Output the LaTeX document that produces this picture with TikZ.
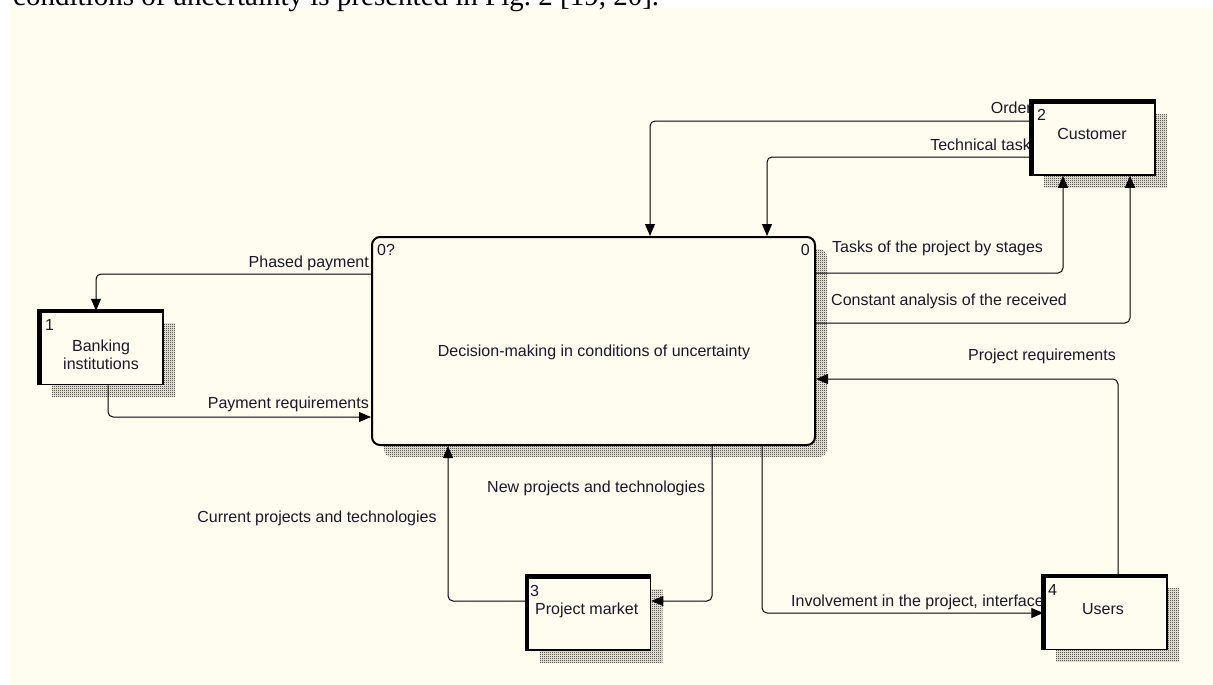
\documentclass[tikz,border=0pt]{standalone}
\usepackage{fontspec}
\setmainfont{Liberation Sans}
\newfontfamily\pageserif{Liberation Serif}
\usetikzlibrary{arrows.meta,patterns,shadows}
\pgfdeclarepatternformonly{finechecker}{\pgfqpoint{0pt}{0pt}}{\pgfqpoint{2pt}{2pt}}{\pgfqpoint{2pt}{2pt}}{%
  \pgfpathrectangle{\pgfqpoint{0pt}{0pt}}{\pgfqpoint{1pt}{1pt}}%
  \pgfpathrectangle{\pgfqpoint{1pt}{1pt}}{\pgfqpoint{1pt}{1pt}}%
  \pgfusepath{fill}}
\definecolor{cream}{RGB}{255,252,240}
\definecolor{ink}{RGB}{25,25,40}
\begin{document}
\begin{tikzpicture}[x=1pt,y=-1pt,
  font=\fontsize{16}{18.5}\selectfont,
  shadowed/.style={general shadow={shadow xshift=12pt,shadow yshift=-12pt,pattern=finechecker,pattern color=black}},
  proc/.style={draw=black,line width=2pt,rounded corners=8pt,fill=cream,minimum width=443pt,minimum height=208pt,inner sep=0pt,shadowed},
  entity/.style={draw=black,line width=1.5pt,fill=cream,minimum width=123pt,minimum height=73pt,inner sep=0pt,shadowed},
  thickedge/.style={draw=black,line width=4.5pt},
  arr/.style={draw=black,line width=1pt,rounded corners=5pt,-{Triangle[length=12pt,width=10pt]}},
  lbl/.style={inner sep=0pt,text=ink}]
\useasboundingbox (0,0) rectangle (1213,685);
\fill[white] (0,0) rectangle (1213,685);
\fill[cream] (10,8) rectangle (1213,685);
\begin{scope}
  \clip (0,0) rectangle (1213,685);
  \node[lbl,text=black,anchor=base west,font=\pageserif\fontsize{29}{32}\selectfont] (cap) at (13,6) {conditions of uncertainty is presented in Fig.~2 [19, 20].};
\end{scope}

% process box
\node[proc] (main) at (593.5,341) {};
\node[lbl] (maintext) at (594,352) {Decision-making in conditions of uncertainty};
\node[lbl,anchor=west] (mainid) at (377,250) {0?};
\node[lbl,anchor=east] (mainnum) at (810,250) {0};

% entities
\node[entity] (bank) at (101.5,348) {};
\node[entity] (cust) at (1093.5,138.5) {};
\node[entity] (mkt) at (589,613.5) {};
\node[entity] (users) at (1105.5,613) {};
\draw[thickedge] (bank.south west) |- (bank.north east);
\draw[thickedge] (cust.south west) |- (cust.north east);
\draw[thickedge] (mkt.south west) |- (mkt.north east);
\draw[thickedge] (users.south west) |- (users.north east);

\node[lbl,anchor=west] (bankn) at (45,325) {1};
\node[lbl,align=center] (bankt) at (101,355) {Banking\\institutions};
\node[lbl,anchor=west] (custn) at (1037,115) {2};
\node[lbl] (custt) at (1092,134) {Customer};
\node[lbl,anchor=west] (mktn) at (530,591) {3};
\node[lbl,anchor=west] (mktt) at (535,610) {Project market};
\node[lbl,anchor=west] (usersn) at (1048,590) {4};
\node[lbl] (userst) at (1103,609) {Users};

% connectors
\draw[arr] (main.west |- 0,274) -| (96,0 |- bank.north);
\draw[arr] (108,0 |- bank.south) |- (main.west |- 0,417);
\draw[arr] (cust.west |- 0,121) -| (650,0 |- main.north);
\draw[arr] (cust.west |- 0,157) -| (767,0 |- main.north);
\draw[arr] (main.east |- 0,273) -| (1063,0 |- cust.south);
\draw[arr] (main.east |- 0,323) -| (1130,0 |- cust.south);
\draw[arr] (mkt.west |- 0,601) -| (448,0 |- main.south);
\draw[arr] (712,0 |- main.south) |- (mkt.east |- 0,601);
\draw[arr] (762,0 |- main.south) |- (users.west |- 0,613);
\draw[arr] (1118,0 |- users.north) |- (main.east |- 0,379);

% labels
\node[lbl,anchor=east] (l1) at (369,263) {Phased payment};
\node[lbl,anchor=east] (l2) at (369,404) {Payment requirements};
\node[lbl,anchor=east] (l3) at (1032,108) {Order};
\node[lbl,anchor=east] (l4) at (1031,145) {Technical task};
\node[lbl,anchor=west] (l5) at (832,248) {Tasks of the project by stages};
\node[lbl,anchor=west] (l6) at (831,301) {Constant analysis of the received};
\node[lbl] (l7) at (317,518) {Current projects and technologies};
\node[lbl,anchor=west] (l8) at (487,488) {New projects and technologies};
\node[lbl,anchor=west] (l9) at (791,602) {Involvement in the project, interface};
\node[lbl,anchor=east] (l10) at (1116,356) {Project requirements};
\end{tikzpicture}
\end{document}
